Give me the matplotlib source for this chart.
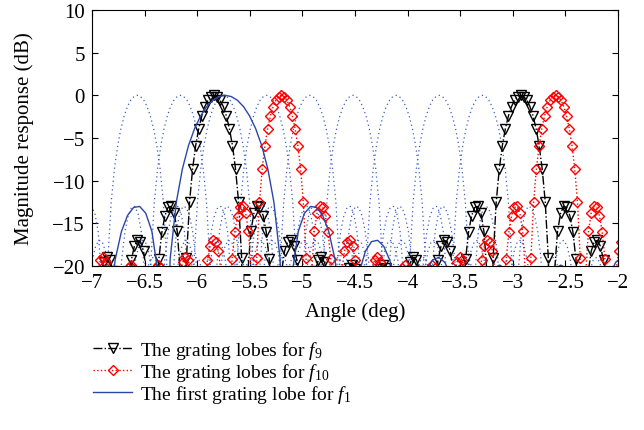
import numpy as np
import matplotlib
matplotlib.use('Agg')
import matplotlib.pyplot as plt

plt.rcParams['font.family'] = ['Liberation Serif', 'DejaVu Serif']
plt.rcParams['mathtext.fontset'] = 'custom'
plt.rcParams['mathtext.rm'] = 'Liberation Serif'
plt.rcParams['mathtext.it'] = 'Liberation Serif:italic'
plt.rcParams['font.size'] = 15

# lobe shape: offset in units of the null spacing -> dB
lobe_u = [0.0, 0.1, 0.2, 0.3, 0.4, 0.5, 0.6, 0.7, 0.8, 0.9,
          1.0, 1.1, 1.2, 1.3, 1.4, 1.5, 1.6, 1.7, 1.8, 1.9,
          2.0, 2.1, 2.2, 2.3, 2.4, 2.5, 2.6, 2.7, 2.8, 2.9,
          3.0, 3.1, 3.2, 3.3, 3.4, 3.5, 3.6, 3.7, 3.8, 3.9,
          4.0, 4.1, 4.2, 4.3, 4.4, 4.5, 4.6, 4.7, 4.8, 4.9, 5.0]
lobe_db = [0.0, -0.14, -0.57, -1.31, -2.40, -3.89, -5.89, -8.62, -12.53, -19.11,
           -40.0, -20.80, -15.94, -13.82, -13.02, -13.14, -14.09, -15.98, -19.20, -25.2,
           -40.0, -25.9, -20.70, -18.25, -17.14, -16.99, -17.69, -19.34, -22.35, -28.2,
           -40.0, -28.55, -23.15, -20.54, -19.29, -19.00, -19.57, -21.10, -23.98, -29.66,
           -40.0, -29.84, -24.34, -21.63, -20.28, -19.89, -20.37, -21.80, -24.60, -30.20, -40.0]

# dotted beams (one per steering angle)
beam_centers = [-6.57, -6.16, -5.75, -5.34, -4.93, -4.52, -4.11, -3.70, -3.29]
beam_null = 0.31

# grating lobes
f9_centers = [-8.755, -5.84, -2.925, -0.01]
f9_null = 0.2915
f10_centers = [-7.806, -5.20, -2.594, 0.012]
f10_null = 0.2606
f1_centers = [-5.735, 0.065]
f1_null = 0.58

labels = ['The grating lobes for $f_9$',
          'The grating lobes for $f_{10}$',
          'The first grating lobe for $f_1$']

u = np.array(lobe_u)
db = np.array(lobe_db)
uu = np.concatenate([-u[:0:-1], u[:-1]])
dd = np.concatenate([db[:0:-1], db[:-1]])


def pattern(centers, null):
    xs = np.concatenate([c + uu * null for c in centers])
    ys = np.tile(dd, len(centers))
    keep = (xs >= -7.1) & (xs <= -1.9)
    return xs[keep], ys[keep]


fig = plt.figure(figsize=(6.44, 4.31), dpi=100)
ax = fig.add_axes([0.1429, 0.3805, 0.8168, 0.594])

blue = '#2a47a8'
for c in beam_centers:
    m = np.abs(uu) <= 4.0
    ax.plot(c + uu[m] * beam_null, dd[m], color='#3b5ec4', lw=0.9,
            linestyle=(0, (1, 2.5)))

x9, y9 = pattern(f9_centers, f9_null)
l9, = ax.plot(x9, y9, '-.', color='black', lw=1.0, marker='v', ms=6.5,
              mfc='none', mec='black', mew=1.0)
x10, y10 = pattern(f10_centers, f10_null)
l10, = ax.plot(x10, y10, ':', color='red', lw=1.0, marker='D', ms=5,
               mfc='none', mec='red', mew=1.0)
x1, y1 = pattern(f1_centers, f1_null)
l1, = ax.plot(x1, y1, '-', color=blue, lw=1.0)

ax.set_xlim(-7, -2)
ax.set_ylim(-20, 10)
ax.set_xticks(np.arange(-7, -1.9, 0.5))
ax.set_xticklabels(['−7', '−6.5', '−6', '−5.5', '−5', '−4.5', '−4', '−3.5', '−3', '−2.5', '−2'])
ax.set_yticks([-20, -15, -10, -5, 0, 5, 10])
ax.tick_params(direction='in', top=True, right=True, length=4, pad=5)
ax.set_xlabel('Angle (deg)', labelpad=7)
ax.set_ylabel('Magnitude response (dB)', labelpad=13)

fig.legend([l9, l10, l1], labels, loc='upper left', bbox_to_anchor=(0.13, 0.234),
           frameon=False, borderpad=0, handlelength=2.0, handletextpad=0.4,
           labelspacing=0.0, fontsize=14)

fig.savefig('out.png', dpi=100)
